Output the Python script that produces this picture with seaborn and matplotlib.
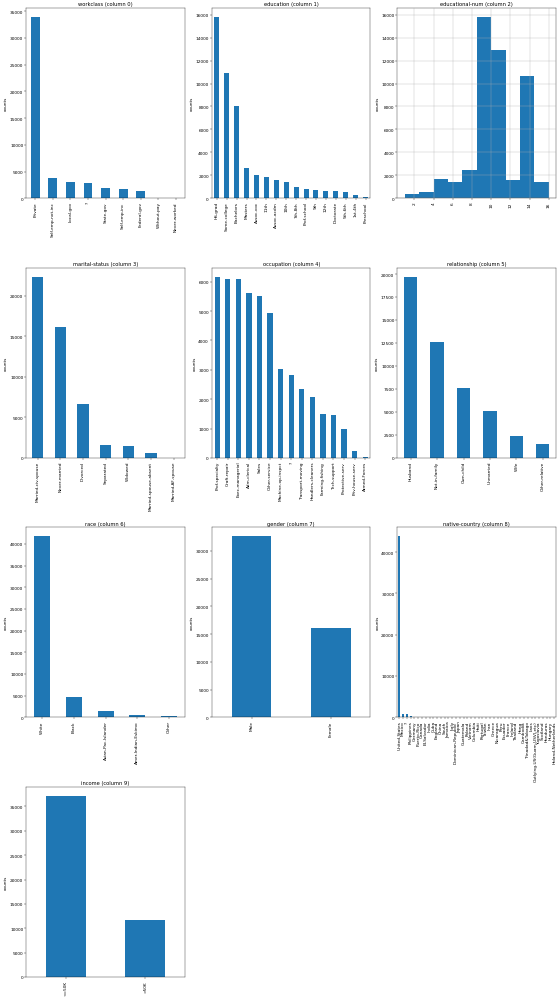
import matplotlib
matplotlib.use('Agg')
import matplotlib.pyplot as plt
import seaborn as sns
import numpy as np

# value counts (adult census data)
workclass_cats = ['Private', 'Self-emp-not-inc', 'Local-gov', '?', 'State-gov',
                  'Self-emp-inc', 'Federal-gov', 'Without-pay', 'Never-worked']
workclass_vals = [33906, 3862, 3136, 2799, 1981, 1695, 1432, 21, 10]

education_cats = ['HS-grad', 'Some-college', 'Bachelors', 'Masters', 'Assoc-voc', '11th',
                  'Assoc-acdm', '10th', '7th-8th', 'Prof-school', '9th', '12th',
                  'Doctorate', '5th-6th', '1st-4th', 'Preschool']
education_vals = [15784, 10878, 8025, 2657, 2061, 1812, 1601, 1389, 955, 834, 756, 657,
                  594, 509, 247, 83]

# educational-num histogram, 10 bins between 1 and 16
edu_num_edges = [1, 2.5, 4, 5.5, 7, 8.5, 10, 11.5, 13, 14.5, 16]
edu_num_counts = [330, 509, 1711, 1389, 2469, 15784, 12939, 1601, 10682, 1428]

marital_cats = ['Married-civ-spouse', 'Never-married', 'Divorced', 'Separated', 'Widowed',
                'Married-spouse-absent', 'Married-AF-spouse']
marital_vals = [22379, 16117, 6633, 1530, 1518, 628, 37]

occupation_cats = ['Prof-specialty', 'Craft-repair', 'Exec-managerial', 'Adm-clerical', 'Sales',
                   'Other-service', 'Machine-op-inspct', '?', 'Transport-moving',
                   'Handlers-cleaners', 'Farming-fishing', 'Tech-support', 'Protective-serv',
                   'Priv-house-serv', 'Armed-Forces']
occupation_vals = [6172, 6112, 6086, 5611, 5504, 4923, 3022, 2809, 2355, 2072, 1490, 1446,
                   983, 242, 15]

relationship_cats = ['Husband', 'Not-in-family', 'Own-child', 'Unmarried', 'Wife', 'Other-relative']
relationship_vals = [19716, 12583, 7581, 5125, 2331, 1506]

race_cats = ['White', 'Black', 'Asian-Pac-Islander', 'Amer-Indian-Eskimo', 'Other']
race_vals = [41762, 4685, 1519, 470, 406]

gender_cats = ['Male', 'Female']
gender_vals = [32650, 16192]

country_cats = ['United-States', 'Mexico', '?', 'Philippines', 'Germany', 'Puerto-Rico', 'Canada',
                'El-Salvador', 'India', 'Cuba', 'England', 'China', 'South', 'Jamaica', 'Italy',
                'Dominican-Republic', 'Japan', 'Guatemala', 'Poland', 'Vietnam', 'Columbia',
                'Haiti', 'Portugal', 'Taiwan', 'Iran', 'Greece', 'Nicaragua', 'Peru', 'Ecuador',
                'France', 'Ireland', 'Thailand', 'Hong', 'Cambodia', 'Trinadad&Tobago', 'Laos',
                'Outlying-US(Guam-USVI-etc)', 'Yugoslavia', 'Scotland', 'Honduras', 'Hungary',
                'Holand-Netherlands']
country_vals = [43832, 951, 857, 295, 206, 184, 182, 155, 151, 138, 127, 122, 115, 106, 105,
                103, 92, 88, 87, 86, 85, 75, 67, 65, 59, 49, 49, 46, 45, 38, 37, 30, 30, 28,
                27, 23, 23, 23, 21, 20, 19, 1]

income_cats = ['<=50K', '>50K']
income_vals = [37155, 11687]

panels = [
    ('workclass', workclass_cats, workclass_vals),
    ('education', education_cats, education_vals),
    ('educational-num', None, None),
    ('marital-status', marital_cats, marital_vals),
    ('occupation', occupation_cats, occupation_vals),
    ('relationship', relationship_cats, relationship_vals),
    ('race', race_cats, race_vals),
    ('gender', gender_cats, gender_vals),
    ('native-country', country_cats, country_vals),
    ('income', income_cats, income_vals),
]

blue = '#1f77b4'
dpi = 31.11
fig, axes = plt.subplots(4, 3, figsize=(18, 32.14), dpi=dpi)
fig.subplots_adjust(left=0.047, right=0.993, top=0.991, bottom=0.022,
                    wspace=0.17, hspace=0.365)
axes = axes.flatten()

for i, (name, cats, vals) in enumerate(panels):
    ax = axes[i]
    if cats is None:
        centers = [(a + b) / 2 for a, b in zip(edu_num_edges[:-1], edu_num_edges[1:])]
        sns.histplot(x=centers, weights=edu_num_counts, bins=edu_num_edges, ax=ax,
                     color=blue, alpha=1, linewidth=0)
        ax.grid(True)
        ax.set_axisbelow(False)
    else:
        sns.barplot(x=cats, y=vals, ax=ax, color=blue, saturation=1, width=0.5)
    ax.tick_params(axis='x', labelrotation=90)
    ax.set_xlabel('')
    ax.set_ylabel('counts')
    ax.set_title('{} (column {})'.format(name, i))

for ax in axes[len(panels):]:
    ax.remove()

fig.savefig('out.png', dpi=dpi)
